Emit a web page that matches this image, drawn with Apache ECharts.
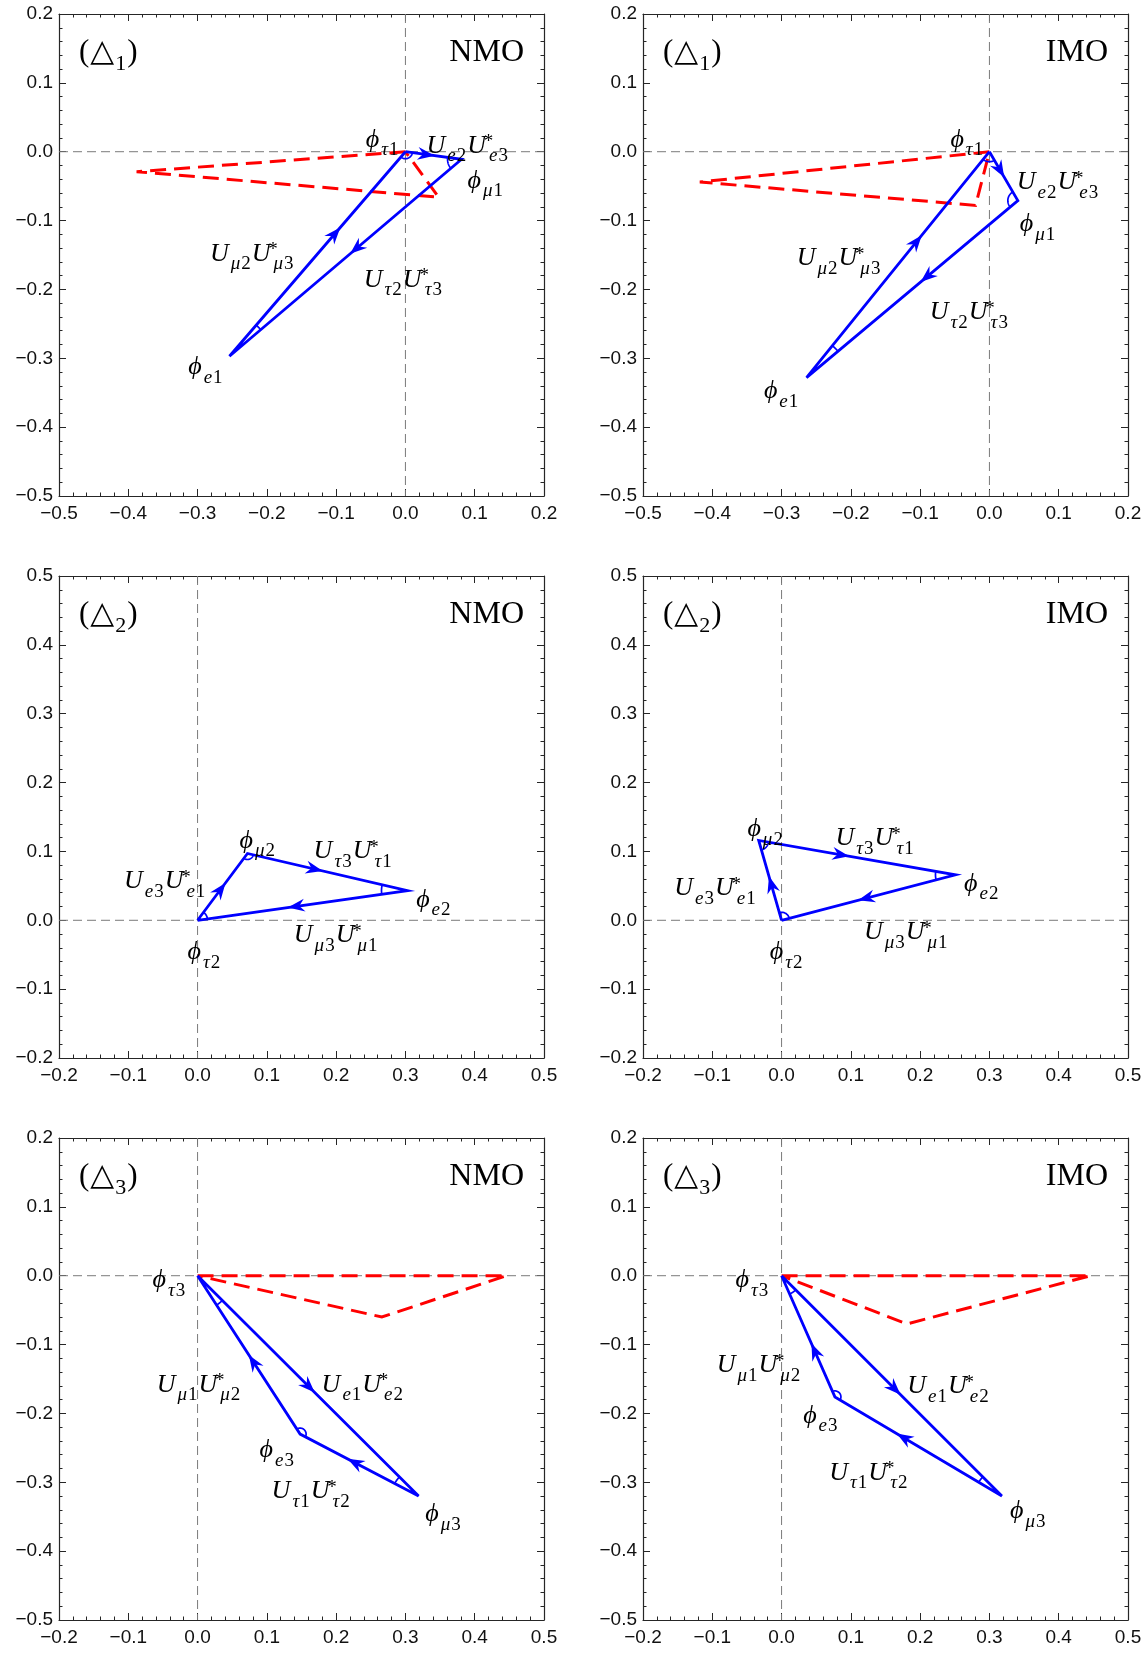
<!DOCTYPE html>
<html>
<head>
<meta charset="utf-8">
<script src="https://cdn.jsdelivr.net/npm/echarts@6/dist/echarts.min.js"></script>
<style>
html,body{margin:0;padding:0;background:#fff;}
#chart{width:1148px;height:1655px;}
</style>
</head>
<body>
<div id="chart"></div>
<script>
// ---------------- data ----------------
// Unitarity-triangle vertices; order follows the arrow cycle A -> B -> C -> A
const tri1NMO = [[0, 0], [0.081, -0.011], [-0.254, -0.297]];   // phi_tau1, phi_mu1, phi_e1
const tri1IMO = [[0, 0], [0.041, -0.071], [-0.264, -0.328]];
const tri2NMO = [[0, 0], [0.072, 0.097], [0.303, 0.043]];      // phi_tau2, phi_mu2, phi_e2
const tri2IMO = [[0, 0], [-0.033, 0.116], [0.251, 0.066]];
const tri3NMO = [[0, 0], [0.319, -0.320], [0.148, -0.230]];    // phi_tau3, phi_mu3, phi_e3
const tri3IMO = [[0, 0], [0.318, -0.320], [0.077, -0.176]];

// red dashed triangles
const red1NMO = [[0, 0], [-0.388, -0.029], [0.048, -0.066]];
const red1IMO = [[0, 0], [-0.418, -0.044], [-0.020, -0.078]];
const red3NMO = [[0, 0], [0.446, 0], [0.266, -0.060]];
const red3IMO = [[0, 0], [0.446, 0], [0.181, -0.070]];

// axis ranges and tick step
const xRange1 = [-0.5, 0.2], yRange1 = [-0.5, 0.2];
const xRange2 = [-0.2, 0.5], yRange2 = [-0.2, 0.5];
const xRange3 = [-0.2, 0.5], yRange3 = [-0.5, 0.2];
const tickStep = 0.1;

// names: vertices [A,B,C]; edges [AB, BC, CA] as [U index, U* index]
const vNames1 = ['τ1', 'μ1', 'e1'];
const eNames1 = [['e2', 'e3'], ['τ2', 'τ3'], ['μ2', 'μ3']];
const vNames2 = ['τ2', 'μ2', 'e2'];
const eNames2 = [['e3', 'e1'], ['τ3', 'τ1'], ['μ3', 'μ1']];
const vNames3 = ['τ3', 'μ3', 'e3'];
const eNames3 = [['e1', 'e2'], ['τ1', 'τ2'], ['μ1', 'μ2']];
const orderNames = ['NMO', 'IMO'];

// ---------------- annotation placement (not data) ----------------
// label anchors [vA, vB, vC, eAB, eBC, eCA] in axis units
const lab1NMO = [[-0.033, 0.0245], [0.116, -0.035], [-0.288, -0.306], [0.090, 0.0157], [-0.003, -0.179], [-0.221, -0.141]];
const lab1IMO = [[-0.032, 0.0245], [0.070, -0.098], [-0.300, -0.341], [0.099, -0.037], [-0.029, -0.226], [-0.217, -0.148]];
const lab2NMO = [[0.0098, -0.039], [0.087, 0.1225], [0.341, 0.0368], [-0.0468, 0.0637], [0.2246, 0.1078], [0.200, -0.0147]];
const lab2IMO = [[0.0073, -0.039], [-0.023, 0.1397], [0.289, 0.0603], [-0.0953, 0.0539], [0.135, 0.126], [0.180, -0.0098]];
const lab3NMO = [[-0.0406, 0.001], [0.355, -0.339], [0.115, -0.246], [0.2385, -0.151], [0.164, -0.306], [0.002, -0.151]];
const lab3IMO = [[-0.042, 0.001], [0.356, -0.335], [0.0567, -0.196], [0.241, -0.153], [0.126, -0.279], [-0.0326, -0.123]];
// arrowhead position along each edge [AB, BC, CA]
const arrowAt1NMO = [0.52, 0.48, 0.63];
const arrowAt1IMO = [0.52, 0.46, 0.63];
const arrowAt2NMO = [0.56, 0.47, 0.57];
const arrowAt2IMO = [0.55, 0.46, 0.56];
const arrowAt3NMO = [0.53, 0.60, 0.50];
const arrowAt3IMO = [0.54, 0.63, 0.44];
// angle-marker radii (px) at [A, B, C]
const arcR1NMO = [7, 14, 41];
const arcR1IMO = [10, 10, 41];
const arcR2NMO = [10, 6, 26];
const arcR2IMO = [8, 10, 20];
const arcR3NMO = [35, 27, 6];
const arcR3IMO = [20, 27, 6];

// ---------------- layout & style ----------------
const colLeft = [59, 643];
const rowTop = [14, 576, 1138];
const PW = 485, PH = 482;
const BLUE = '#0000ff', RED = '#ff0000', INK = '#111111', FRAME = '#262626';
const SERIF = "'Liberation Serif','DejaVu Serif','Times New Roman',serif";
const SANS = "'Liberation Sans',Arial,Helvetica,sans-serif";

const rich = {
  m:  {fontFamily: SERIF, fontStyle: 'italic', fontSize: 26, lineHeight: 26, padding: [5, 2, 7, 0], verticalAlign: 'top', color: INK},
  si: {fontFamily: SERIF, fontStyle: 'italic', fontSize: 19, lineHeight: 19, padding: [19, 1, 0, 0], verticalAlign: 'top', color: INK},
  sd: {fontFamily: SERIF, fontStyle: 'normal', fontSize: 19, lineHeight: 19, padding: [19, 1, 0, 0], verticalAlign: 'top', color: INK},
  st: {fontFamily: SERIF, fontStyle: 'normal', fontSize: 19, lineHeight: 19, padding: [5, 0, 14, 0], verticalAlign: 'top', width: 1, color: INK}
};
const richHead = {
  r: {fontFamily: SERIF, fontSize: 31, lineHeight: 31, padding: [3, 0, 7, 0], verticalAlign: 'top', color: INK},
  t: {fontFamily: "'DejaVu Sans',sans-serif", fontSize: 31, lineHeight: 31, padding: [3, 1, 7, 1], verticalAlign: 'top', color: INK},
  d: {fontFamily: SERIF, fontSize: 22, lineHeight: 22, padding: [19, 1, 0, 0], verticalAlign: 'top', color: INK},
  o: {fontFamily: SERIF, fontSize: 32, lineHeight: 32, padding: [3, 0, 6, 0], verticalAlign: 'top', color: INK}
};

function subs(s) {
  return s.split('').map(c => /\d/.test(c) ? '{sd|' + c + '}' : '{si|' + c + '}').join('');
}
function phiText(v) { return '{m|ϕ}' + subs(v); }
function uuText(e) { return '{m|U}' + subs(e[0]) + '{m|U}{st|*}' + subs(e[1]); }

const panels = [
  {row: 0, col: 0, tri: tri1NMO, red: red1NMO, xr: xRange1, yr: yRange1, vn: vNames1, en: eNames1, lp: lab1NMO, af: arrowAt1NMO, ar: arcR1NMO, k: '1', ord: orderNames[0]},
  {row: 0, col: 1, tri: tri1IMO, red: red1IMO, xr: xRange1, yr: yRange1, vn: vNames1, en: eNames1, lp: lab1IMO, af: arrowAt1IMO, ar: arcR1IMO, k: '1', ord: orderNames[1]},
  {row: 1, col: 0, tri: tri2NMO, red: null, xr: xRange2, yr: yRange2, vn: vNames2, en: eNames2, lp: lab2NMO, af: arrowAt2NMO, ar: arcR2NMO, k: '2', ord: orderNames[0]},
  {row: 1, col: 1, tri: tri2IMO, red: null, xr: xRange2, yr: yRange2, vn: vNames2, en: eNames2, lp: lab2IMO, af: arrowAt2IMO, ar: arcR2IMO, k: '2', ord: orderNames[1]},
  {row: 2, col: 0, tri: tri3NMO, red: red3NMO, xr: xRange3, yr: yRange3, vn: vNames3, en: eNames3, lp: lab3NMO, af: arrowAt3NMO, ar: arcR3NMO, k: '3', ord: orderNames[0]},
  {row: 2, col: 1, tri: tri3IMO, red: red3IMO, xr: xRange3, yr: yRange3, vn: vNames3, en: eNames3, lp: lab3IMO, af: arrowAt3IMO, ar: arcR3IMO, k: '3', ord: orderNames[1]}
];

function fmt(v) {
  const s = Math.abs(v).toFixed(1);
  return (v < -1e-9 ? '\u2212' : '') + s;
}

function makeAxis(gridIndex, range, position, showLabel) {
  return {
    type: 'value', gridIndex: gridIndex, position: position,
    min: range[0], max: range[1], interval: tickStep,
    axisLine: {show: true, onZero: false, lineStyle: {color: FRAME, width: 1.2}},
    axisTick: {show: true, inside: true, length: 7, lineStyle: {color: FRAME, width: 1}},
    minorTick: {show: true, splitNumber: 5, length: 3.5, lineStyle: {color: FRAME, width: 1}},
    splitLine: {show: false}, minorSplitLine: {show: false},
    axisLabel: {
      show: showLabel, formatter: fmt, fontFamily: SANS, fontSize: 19, color: INK,
      margin: (position === 'left' || position === 'right') ? 6 : 8,
      showMinLabel: true, showMaxLabel: true
    }
  };
}

const grids = [], xAxes = [], yAxes = [], series = [], graphics = [];

panels.forEach((p, i) => {
  const left = colLeft[p.col], top = rowTop[p.row];
  grids.push({left: left, top: top, width: PW, height: PH, containLabel: false, outerBoundsMode: 'none'});
  xAxes.push(makeAxis(i, p.xr, 'bottom', true));
  xAxes.push(makeAxis(i, p.xr, 'top', false));
  yAxes.push(makeAxis(i, p.yr, 'left', true));
  yAxes.push(makeAxis(i, p.yr, 'right', false));
  const xi = 2 * i, yi = 2 * i;

  // dashed zero lines
  series.push({
    type: 'custom', xAxisIndex: xi, yAxisIndex: yi, silent: true, z: 1,
    data: [[0, 0]],
    renderItem: function (params, api) {
      const cs = params.coordSys;
      const o = api.coord([0, 0]);
      const st = {stroke: '#7a7a7a', lineWidth: 1, lineDash: [9, 5], fill: null};
      return {type: 'group', children: [
        {type: 'line', shape: {x1: cs.x, y1: o[1], x2: cs.x + cs.width, y2: o[1]}, style: st},
        {type: 'line', shape: {x1: o[0], y1: cs.y, x2: o[0], y2: cs.y + cs.height}, style: st}
      ]};
    }
  });

  // red dashed triangle
  if (p.red) {
    series.push({
      type: 'line', xAxisIndex: xi, yAxisIndex: yi, silent: true, z: 2,
      data: p.red.concat([p.red[0]]),
      symbol: 'none',
      lineStyle: {color: RED, width: 3, type: [16, 8], join: 'miter'}
    });
  }

  // blue triangle
  series.push({
    type: 'line', xAxisIndex: xi, yAxisIndex: yi, silent: true, z: 3,
    data: p.tri.concat([p.tri[0]]),
    symbol: 'none',
    lineStyle: {color: BLUE, width: 2.8, join: 'miter', miterLimit: 6}
  });

  // arrowheads
  const edges = [0, 1, 2].map(j => {
    const a = p.tri[j], b = p.tri[(j + 1) % 3];
    return [a[0], a[1], b[0], b[1], p.af[j]];
  });
  series.push({
    type: 'custom', xAxisIndex: xi, yAxisIndex: yi, silent: true, z: 4,
    encode: {x: [0, 2], y: [1, 3]},
    data: edges,
    renderItem: function (params, api) {
      const p1 = api.coord([api.value(0), api.value(1)]);
      const p2 = api.coord([api.value(2), api.value(3)]);
      const t = api.value(4);
      const dx = p2[0] - p1[0], dy = p2[1] - p1[1];
      const len = Math.hypot(dx, dy);
      const ux = dx / len, uy = dy / len, nx = -uy, ny = ux;
      const tx = p1[0] + dx * t, ty = p1[1] + dy * t;
      const L = 17, W = 6.5, N = 11.5;
      return {
        type: 'polygon',
        shape: {points: [
          [tx, ty],
          [tx - L * ux + W * nx, ty - L * uy + W * ny],
          [tx - N * ux, ty - N * uy],
          [tx - L * ux - W * nx, ty - L * uy - W * ny]
        ]},
        style: {fill: BLUE, stroke: null}
      };
    }
  });

  // angle markers
  const arcsData = [0, 1, 2].map(j => {
    const v = p.tri[j], a = p.tri[(j + 1) % 3], b = p.tri[(j + 2) % 3];
    return [v[0], v[1], a[0], a[1], b[0], b[1], p.ar[j]];
  });
  series.push({
    type: 'custom', xAxisIndex: xi, yAxisIndex: yi, silent: true, z: 4,
    encode: {x: [0], y: [1]},
    data: arcsData,
    renderItem: function (params, api) {
      const c = api.coord([api.value(0), api.value(1)]);
      const a = api.coord([api.value(2), api.value(3)]);
      const b = api.coord([api.value(4), api.value(5)]);
      const r = api.value(6);
      const t1 = Math.atan2(a[1] - c[1], a[0] - c[0]);
      const t2 = Math.atan2(b[1] - c[1], b[0] - c[0]);
      let d = t2 - t1;
      while (d > Math.PI) d -= 2 * Math.PI;
      while (d < -Math.PI) d += 2 * Math.PI;
      const pts = [];
      for (let k = 0; k <= 30; k++) {
        const th = t1 + d * k / 30;
        pts.push([c[0] + r * Math.cos(th), c[1] + r * Math.sin(th)]);
      }
      return {type: 'polyline', shape: {points: pts}, style: {stroke: BLUE, lineWidth: 1.7, fill: null}};
    }
  });

  // labels
  const texts = [phiText(p.vn[0]), phiText(p.vn[1]), phiText(p.vn[2]),
                 uuText(p.en[0]), uuText(p.en[1]), uuText(p.en[2])];
  series.push({
    type: 'custom', xAxisIndex: xi, yAxisIndex: yi, silent: true, z: 6, clip: false,
    encode: {x: [0], y: [1]},
    data: p.lp.map((q, j) => [q[0], q[1], j]),
    renderItem: function (params, api) {
      const c = api.coord([api.value(0), api.value(1)]);
      return {
        type: 'text', x: c[0], y: c[1],
        style: {text: texts[api.value(2)], rich: rich, align: 'center', verticalAlign: 'middle'}
      };
    }
  });

  // panel headers
  graphics.push({
    type: 'text', x: left + 20, y: top + 36, silent: true,
    style: {text: '{r|(}{t|△}{d|' + p.k + '}{r|)}', rich: richHead, align: 'left', verticalAlign: 'middle'}
  });
  graphics.push({
    type: 'text', x: left + PW - 20, y: top + 36, silent: true,
    style: {text: '{o|' + p.ord + '}', rich: richHead, align: 'right', verticalAlign: 'middle'}
  });
});

const chart = echarts.init(document.getElementById('chart'), null, {renderer: 'canvas'});
chart.setOption({
  backgroundColor: '#ffffff',
  animation: false,
  grid: grids,
  xAxis: xAxes,
  yAxis: yAxes,
  series: series,
  graphic: graphics
});
</script>
</body>
</html>
